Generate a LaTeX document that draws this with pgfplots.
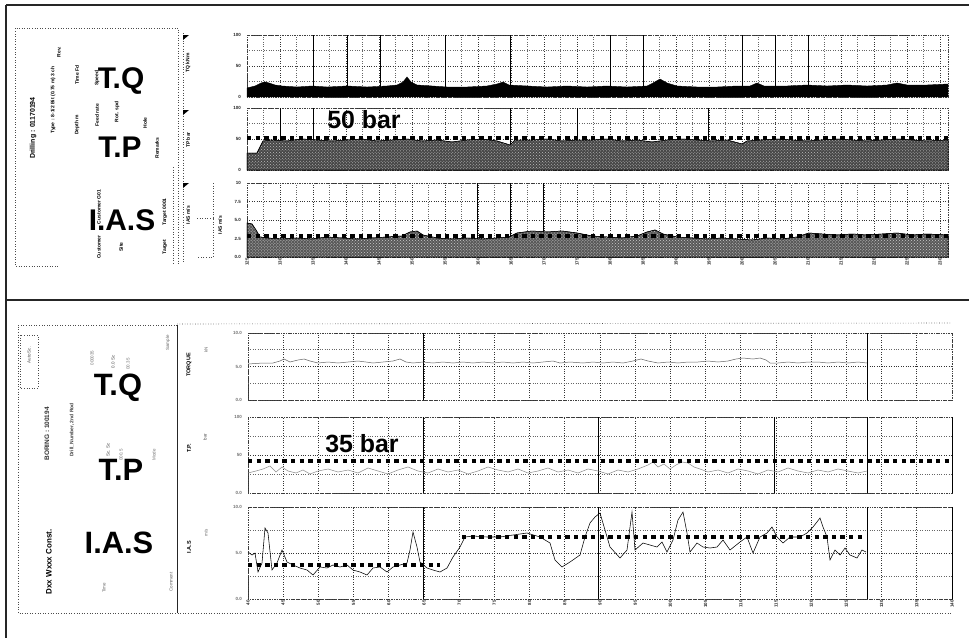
\documentclass[border=0pt]{standalone}
\usepackage{fontspec}
\setmainfont{Liberation Sans}
\usepackage{pgfplots}
\pgfplotsset{compat=1.18}
\usetikzlibrary{patterns}
\pgfplotsset{
  strip/.style={
    scale only axis, anchor=north west, clip=false,
    axis line style={black!75, densely dotted, line width=0.7bp},
    major tick length=0pt, minor tick length=0pt,
    grid=both,
    major grid style={dotted, black!80, line width=0.65bp},
    minor grid style={dotted, black!60, line width=0.55bp},
    ticklabel style={font=\fontsize{4.5}{5}\selectfont\bfseries, text=black!85},
    xticklabel style={rotate=90, anchor=east, inner sep=1bp},
    yticklabel style={inner sep=1bp, xshift=-5bp},
    /pgf/number format/assume math mode=true,
  },
  solidx/.style={extra x ticks={#1}, extra x tick labels={},
    extra x tick style={grid=major, major grid style={solid, black, line width=0.9bp}}},
  refline/.style={black, line width=4.3bp, dash pattern=on 4.3bp off 4.3bp},
}
\begin{document}
\begin{tikzpicture}
\path[use as bounding box, fill=white] (0,0) rectangle (969bp,-638bp);
% outer frame and divider
\draw[line width=1.6bp, black!85] (6bp,-5bp) -- (969bp,-5bp);
\draw[line width=1.6bp, black!85] (6bp,-5bp) -- (6bp,-638bp);
\draw[line width=1.4bp, black!85] (6bp,-300bp) -- (969bp,-300bp);

% ---------- top left panel ----------
\draw[dotted, black!70, line width=0.6bp] (15bp,-265bp) -- (15bp,-28bp) -- (178bp,-28bp) -- (178bp,-265bp);
\draw[dotted, black!70, line width=0.6bp] (16bp,-266bp) -- (60bp,-266bp);
\draw[dotted, black!70, line width=0.6bp] (173bp,-167bp) -- (173bp,-263bp);
\draw[dotted, black!70, line width=0.6bp] (183bp,-33bp) -- (183bp,-263bp);
\draw[dotted, black!70, line width=0.6bp] (197bp,-218bp) -- (213bp,-218bp) (213bp,-183bp) -- (213bp,-257bp) -- (197bp,-257bp);
\foreach \yy in {35,110,183}{\fill (183bp,-\yy bp) -- (189bp,-\yy bp) -- (183bp,-\yy bp-5bp) -- cycle;}
\node[rotate=90, font=\fontsize{7}{7}\selectfont\bfseries] at (33bp,-128bp) {Drilling : 01170194};
\node[rotate=90, font=\fontsize{5}{5}\selectfont\bfseries] at (53bp,-100bp) {Type : 8-1/2 Bit (0.75 m) 3 ch};
\node[rotate=90, font=\fontsize{5}{5}\selectfont\bfseries] at (59bp,-52bp) {Rev.};
\node[rotate=90, font=\fontsize{5}{5}\selectfont\bfseries] at (77bp,-75bp) {Time Fd};
\node[rotate=90, font=\fontsize{5}{5}\selectfont\bfseries] at (77bp,-125bp) {Depth m};
\node[rotate=90, font=\fontsize{5}{5}\selectfont\bfseries] at (97bp,-78bp) {Speed};
\node[rotate=90, font=\fontsize{5}{5}\selectfont\bfseries] at (97bp,-115bp) {Feed rate};
\node[rotate=90, font=\fontsize{5}{5}\selectfont\bfseries] at (117bp,-112bp) {Rot. spd};
\node[rotate=90, font=\fontsize{5}{5}\selectfont\bfseries] at (145bp,-123bp) {Hole};
\node[rotate=90, font=\fontsize{5}{5}\selectfont\bfseries] at (157bp,-148bp) {Remarks};
\node[rotate=90, font=\fontsize{5}{5}\selectfont\bfseries] at (99bp,-207bp) {Customer G01};
\node[rotate=90, font=\fontsize{5}{5}\selectfont\bfseries] at (99bp,-247bp) {Customer};
\node[rotate=90, font=\fontsize{5}{5}\selectfont\bfseries] at (121bp,-247bp) {Site};
\node[rotate=90, font=\fontsize{5}{5}\selectfont\bfseries] at (165bp,-212bp) {Target 0001};
\node[rotate=90, font=\fontsize{5}{5}\selectfont\bfseries] at (165bp,-247bp) {Target};
\node[rotate=90, font=\fontsize{5}{5}\selectfont\bfseries] at (188bp,-63bp) {TQ kNm};
\node[rotate=90, font=\fontsize{5}{5}\selectfont\bfseries] at (188bp,-140bp) {TP bar};
\node[rotate=90, font=\fontsize{5}{5}\selectfont\bfseries] at (188bp,-215bp) {IAS m/s};
\node[rotate=90, font=\fontsize{5}{5}\selectfont\bfseries] at (220bp,-225bp) {IAS m/s};
\node[font=\fontsize{30}{30}\selectfont\bfseries, anchor=base] at (121bp,-88bp) {T.Q};
\node[font=\fontsize{30}{30}\selectfont\bfseries, anchor=base] at (120bp,-157bp) {T.P};
\node[font=\fontsize{30}{30}\selectfont\bfseries, anchor=base] at (122bp,-230bp) {I.A.S};

% ---------- top strips ----------
\begin{axis}[strip, at={(247bp,-35bp)}, width=701bp, height=62bp,
  xmin=0, xmax=701, ymin=0, ymax=62,
  xtick={0,33,...,693}, minor x tick num=1, xticklabels={},
  ytick={0,31,62}, minor ytick={15.5,46.5}, yticklabels={0,50,100},
  solidx={66,100,133,198,263,363,396,495,528,561}]
\addplot[fill=black, draw=black, line width=0.4bp] coordinates {
(0,9) (8,11) (14,14) (18,15) (22,14) (28,12) (35,11) (50,10) (65,11) (80,10)
(100,11) (120,10) (140,11) (150,12) (156,15) (160,20) (164,15) (170,12) (185,11)
(200,10) (220,10) (240,11) (250,13) (256,15) (262,12) (280,11) (300,10) (320,11)
(340,10) (360,11) (380,10) (400,11) (406,14) (413,18) (420,14) (430,11) (450,10)
(470,10) (490,11) (503,11) (510,14) (517,11) (540,11) (560,12) (580,11) (600,12)
(620,11) (640,12) (650,14) (660,12) (680,12) (701,13)} \closedcycle;
\end{axis}

\begin{axis}[strip, at={(247bp,-108bp)}, width=701bp, height=62bp,
  xmin=0, xmax=701, ymin=0, ymax=62,
  xtick={0,33,...,693}, minor x tick num=1, xticklabels={},
  ytick={0,31,62}, minor ytick={15.5,46.5}, yticklabels={0,50,100},
  solidx={33,66,263,330,461}]
\addplot[fill=black!72, draw=black, line width=0.5bp,
  postaction={pattern=crosshatch dots, pattern color=black!25}] coordinates {
(0,17) (10,17) (16,29) (25,30) (40,29) (55,31) (70,30) (85,29) (100,30) (115,31)
(130,29) (145,30) (160,31) (175,29) (190,30) (205,28) (220,30) (235,31) (250,29)
(263,25) (268,30) (285,30) (300,31) (315,29) (330,30) (345,30) (360,31) (375,29)
(390,30) (405,28) (420,30) (435,31) (450,30) (465,29) (480,30) (495,26) (500,29)
(515,30) (530,31) (545,30) (560,29) (575,30) (590,31) (605,30) (620,29) (635,30)
(650,31) (665,30) (680,29) (701,30)} \closedcycle;
\addplot[refline] coordinates {(0,32) (705,32)};
\end{axis}

\begin{axis}[strip, at={(247bp,-183bp)}, width=701bp, height=74bp,
  xmin=0, xmax=701, ymin=0, ymax=74,
  xtick={0,33,...,693}, minor x tick num=1,
  xticklabels={125,130,135,140,145,150,155,160,165,170,175,180,185,190,195,200,205,210,215,220,225,230},
  ytick={0,18.5,37,55.5,74}, yticklabels={0.0,2.5,5.0,7.5,10},
  solidx={230,263,296}]
\addplot[fill=black!65, draw=black, line width=0.5bp,
  postaction={pattern=crosshatch dots, pattern color=black!20}] coordinates {
(0,34) (5,33) (9,27) (13,20) (20,19) (35,18) (50,19) (65,18) (80,20) (95,19)
(110,18) (125,19) (140,20) (155,21) (163,25) (170,26) (176,22) (190,19) (205,18)
(220,19) (235,18) (250,19) (262,20) (270,24) (285,26) (300,25) (315,26) (330,24)
(345,21) (360,20) (375,19) (390,21) (400,25) (408,27) (416,23) (430,20) (445,19)
(460,18) (475,19) (490,18) (505,17) (520,19) (535,18) (550,20) (562,24) (575,23)
(590,22) (605,23) (620,22) (635,23) (650,24) (665,22) (680,23) (701,22)} \closedcycle;
\addplot[refline] coordinates {(0,21) (705,21)};
\end{axis}
\node[font=\fontsize{25}{25}\selectfont\bfseries, anchor=base] at (364bp,-128bp) {50 bar};

% ---------- bottom left panel ----------
\draw[dotted, black!70, line width=0.6bp] (177bp,-325bp) -- (18bp,-325bp) -- (18bp,-613bp) -- (952bp,-613bp);
\draw[dotted, black!70, line width=0.6bp] (177bp,-324bp) -- (952bp,-323bp);
\draw[black!85, line width=0.8bp] (177bp,-325bp) -- (177bp,-613bp);
\draw[dotted, black!70, line width=0.6bp] (20bp,-335bp) rectangle (38bp,-388bp);
\node[rotate=90, font=\fontsize{4.5}{5}\selectfont, text=black!70] at (29bp,-355bp) {Auto Sc.};
\node[rotate=90, font=\fontsize{6.5}{7}\selectfont\bfseries, text=black!80] at (47bp,-434bp) {BORING : 100194};
\node[rotate=90, font=\fontsize{5}{5}\selectfont\bfseries, text=black!75] at (72bp,-430bp) {Drill\_Number, 2nd Rod};
\node[rotate=90, font=\fontsize{8}{8}\selectfont\bfseries] at (49bp,-562bp) {Dxx Wxxx Const.};
\node[rotate=90, font=\fontsize{4.5}{5}\selectfont, text=black!55] at (92bp,-358bp) {000035};
\node[rotate=90, font=\fontsize{4.5}{5}\selectfont, text=black!70] at (113bp,-362bp) {0.0 Sc};
\node[rotate=90, font=\fontsize{4.5}{5}\selectfont, text=black!55] at (128bp,-364bp) {00.35};
\node[rotate=90, font=\fontsize{4.5}{5}\selectfont, text=black!70] at (108bp,-450bp) {Sc. Sc};
\node[rotate=90, font=\fontsize{4.5}{5}\selectfont, text=black!55] at (121bp,-455bp) {000.5};
\node[rotate=90, font=\fontsize{4.5}{5}\selectfont, text=black!55] at (154bp,-455bp) {Mode};
\node[rotate=90, font=\fontsize{4.5}{5}\selectfont, text=black!60] at (168bp,-343bp) {Sample};
\node[rotate=90, font=\fontsize{4.5}{5}\selectfont, text=black!60] at (104bp,-588bp) {Time};
\node[rotate=90, font=\fontsize{4.5}{5}\selectfont, text=black!60] at (171bp,-582bp) {Comment};
\node[rotate=90, font=\fontsize{5.5}{6}\selectfont\bfseries] at (189bp,-365bp) {TORQUE};
\node[rotate=90, font=\fontsize{4.5}{5}\selectfont, text=black!60] at (206bp,-350bp) {kN};
\node[rotate=90, font=\fontsize{5.5}{6}\selectfont\bfseries] at (189bp,-448bp) {T.P.};
\node[rotate=90, font=\fontsize{4.5}{5}\selectfont, text=black!70] at (205bp,-437bp) {bar};
\node[rotate=90, font=\fontsize{5.5}{6}\selectfont\bfseries] at (189bp,-547bp) {I.A.S};
\node[rotate=90, font=\fontsize{4.5}{5}\selectfont, text=black!60] at (206bp,-533bp) {m/s};
\node[font=\fontsize{31}{31}\selectfont\bfseries, anchor=base] at (118bp,-395bp) {T.Q};
\node[font=\fontsize{31}{31}\selectfont\bfseries, anchor=base] at (121bp,-480bp) {T.P};
\node[font=\fontsize{31}{31}\selectfont\bfseries, anchor=base] at (119bp,-553bp) {I.A.S};

% ---------- bottom strips ----------
\begin{axis}[strip, at={(248bp,-333bp)}, width=704bp, height=67bp,
  xmin=0, xmax=704, ymin=0, ymax=67,
  xtick={0,35.2,...,705}, xticklabels={},
  ytick={0,33.5,67}, minor ytick={16.75,50.25}, yticklabels={0.0,5.0,10.0},
  yticklabel style={text=black!55},
  solidx={175,619}]
\addplot[black!60, line width=0.5bp] coordinates {
(0,36) (15,37) (25,37) (32,39) (36,41) (42,38) (50,40) (56,41) (62,39) (70,37)
(80,38) (90,37) (100,38) (110,39) (118,38) (125,37) (135,38) (145,39) (152,41)
(158,38) (165,37) (175,38) (185,37) (195,38) (205,37) (215,38) (225,37) (235,38)
(245,37) (255,38) (265,37) (275,38) (285,37) (295,38) (305,39) (312,37) (322,38)
(335,37) (345,38) (355,37) (365,38) (375,37) (385,39) (393,41) (400,39) (410,37)
(420,38) (430,37) (440,38) (450,38) (460,39) (470,38) (480,39) (488,41) (495,42)
(505,41) (512,42) (518,40) (522,37) (530,37) (540,38) (550,37) (560,38) (570,38)
(580,37) (590,38) (600,37) (610,38) (619,37)};
\end{axis}

\begin{axis}[strip, at={(248bp,-417bp)}, width=704bp, height=76bp,
  xmin=0, xmax=704, ymin=0, ymax=76,
  xtick={0,35.2,...,705}, xticklabels={},
  ytick={0,38,76}, minor ytick={19,57}, yticklabels={0.0,50,100},
  yticklabel style={text=black!55},
  solidx={175,350,526,619,704}]
\addplot[black!45, line width=0.5bp] coordinates {
(0,20) (8,22) (15,24) (22,27) (28,21) (34,26) (40,22) (48,20) (55,23) (62,19)
(70,22) (80,24) (90,21) (100,23) (110,20) (120,25) (130,22) (140,19) (150,23)
(160,26) (170,22) (180,20) (190,24) (200,21) (210,23) (220,19) (230,22) (240,26)
(250,23) (260,21) (270,24) (280,20) (290,22) (300,25) (310,21) (320,23) (330,20)
(340,24) (350,22) (360,19) (370,23) (380,21) (390,24) (400,28) (405,31) (410,26)
(416,29) (422,24) (428,28) (434,31) (440,30) (446,26) (452,24) (460,21) (470,23)
(480,20) (490,24) (500,22) (510,19) (520,23) (530,21) (540,25) (550,22) (560,20)
(570,23) (580,21) (590,24) (600,22) (610,20) (619,22)};
\addplot[refline] coordinates {(0,32) (704,32)};
\end{axis}
\node[font=\fontsize{25}{25}\selectfont\bfseries, anchor=base] at (362bp,-452bp) {35 bar};

\begin{axis}[strip, at={(248bp,-507bp)}, width=704bp, height=92bp,
  xmin=0, xmax=704, ymin=0, ymax=92,
  xtick={0,35.2,...,705},
  xticklabels={40,45,50,55,60,65,70,75,80,85,90,95,100,105,110,115,120,125,130,135,140},
  ytick={0,46,92}, minor ytick={23,69}, yticklabels={0.0,5.0,10.0},
  yticklabel style={text=black!55},
  solidx={175,350,619,704}]
\addplot[black, line width=0.55bp] coordinates {
(0,47) (4,44) (7,46) (10,27) (14,36) (17,71) (20,66) (24,29) (29,36) (34,49)
(39,37) (45,34) (52,31) (59,29) (65,24) (72,32) (79,31) (85,34) (92,32) (99,34)
(105,29) (112,27) (119,24) (125,31) (132,32) (139,27) (145,32) (152,34) (159,36)
(162,49) (165,67) (169,52) (172,37) (179,31) (185,29) (192,27) (199,31) (205,42)
(212,52) (217,62) (225,63) (239,62) (252,62) (265,64) (279,66) (292,62) (302,56)
(307,39) (314,32) (322,37) (332,44) (337,62) (342,76) (347,82) (352,86) (357,69)
(362,52) (372,41) (379,49) (384,87) (387,49) (395,56) (402,54) (409,52) (414,57)
(419,47) (425,59) (430,79) (435,87) (439,66) (442,47) (449,56) (455,52) (462,51)
(469,52) (475,59) (482,49) (492,57) (499,62) (505,46) (512,62) (519,66) (524,72)
(529,62) (535,56) (542,62) (552,62) (559,66) (565,72) (572,81) (575,72) (579,62)
(582,39) (587,49) (592,44) (597,51) (602,44) (609,41) (614,49) (618,47)};
\addplot[refline] coordinates {(0,34) (192,34)};
\addplot[refline] coordinates {(214,62) (617,62)};
\end{axis}
\end{tikzpicture}
\end{document}
